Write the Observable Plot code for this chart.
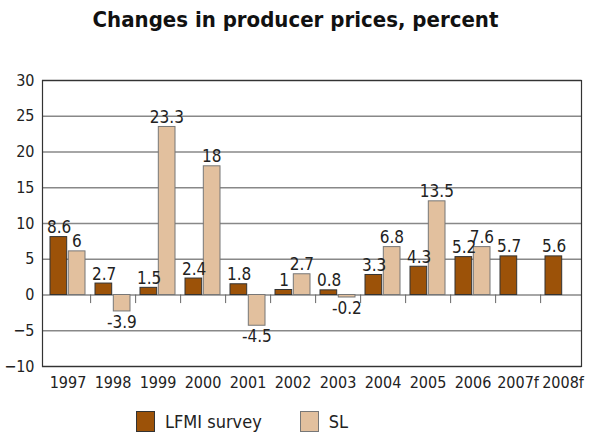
<!DOCTYPE html>
<html><head><meta charset="utf-8">
<script src="https://cdn.jsdelivr.net/npm/d3@7"></script>
<script src="https://cdn.jsdelivr.net/npm/@observablehq/plot@0.6"></script>
<style>
body{margin:0;background:#fff;font-family:"Liberation Sans Narrow","DejaVu Sans Condensed",sans-serif;position:relative;width:591px;height:438px;overflow:hidden;}
#title{position:absolute;left:0;top:0;width:591px;text-align:center;font-weight:bold;font-size:22px;line-height:22px;padding-top:9px;color:#111;}
#chart{position:absolute;left:0;top:50px;}
#legend{position:absolute;top:411px;left:136px;display:flex;align-items:center;font-size:18px;color:#222;}
.sw{width:19px;height:21px;box-sizing:border-box;border:1px solid #333;margin-right:10px;}
.item{display:flex;align-items:center;margin-right:38px;}
</style></head><body>
<div id="title">Changes in producer prices, percent</div>
<div id="chart"></div>
<div id="legend"></div>
<script>
const years = ["1997","1998","1999","2000","2001","2002","2003","2004","2005","2006","2007f","2008f"];
const lfmiBars = [8.1, 1.6, 1.0, 2.3, 1.5, 0.7, 0.65, 2.8, 3.95, 5.3, 5.4, 5.4];
const slBars = [6.1, -2.3, 23.5, 18.0, -4.3, 2.9, -0.35, 6.7, 13.1, 6.7, null, null];
const lfmiLabels = ["8.6","2.7","1.5","2.4","1.8","1","0.8","3.3","4.3","5.2","5.7","5.6"];
const slLabels = ["6","-3.9","23.3","18","-4.5","2.7","-0.2","6.8","13.5","7.6","",""];
const yTicks = [-10,-5,0,5,10,15,20,25,30];
const series = ["LFMI survey","SL"];
const colors = ["#9c5208","#e2c09e"];
const strokes = ["#333","#777"];

const W = 591, H = 350, mL = 42, mR = 10, mT = 30, mB = 34;
const pIn = 0.22, pOut = 0.14;
const xRange = [42, 588];
const step = (xRange[1] - xRange[0]) / (years.length - pIn + 2 * pOut);
const bw = step * (1 - pIn);
const half = bw / 2 + 0.65;

const rows = years.map((year, i) => ({year, lfmi: lfmiBars[i], sl: slBars[i], lfmiLabel: lfmiLabels[i], slLabel: slLabels[i]}));
const slRows = rows.filter(d => d.sl != null);
const font = '"Liberation Sans Narrow","DejaVu Sans Condensed",sans-serif';

const chart = Plot.plot({
  width: W, height: H,
  marginLeft: mL, marginRight: mR, marginTop: mT, marginBottom: mB,
  style: {fontFamily: font, fontSize: "16px", color: "#222", background: "#fff"},
  x: {type: "band", domain: years, paddingInner: pIn, paddingOuter: pOut, range: xRange, label: null},
  y: {domain: [-10, 30], label: null},
  marks: [
    Plot.ruleY(yTicks, {stroke: "#888", strokeWidth: 1.3}),
    Plot.barY(rows, {x: "year", y: "lfmi", fill: colors[0], stroke: strokes[0], strokeWidth: 1, insetRight: half}),
    Plot.barY(slRows, {x: "year", y: "sl", fill: colors[1], stroke: strokes[1], strokeWidth: 1, insetLeft: half}),
    Plot.ruleX(years.slice(0, years.length - 1), {x: d => d, dx: step / 2, y1: 0, y2: -1.2, stroke: "#666"}),
    Plot.frame({stroke: "#333", strokeWidth: 1.2}),
    Plot.text(rows, {x: "year", y: "lfmi", text: "lfmiLabel", dx: -bw / 4, dy: -4, lineAnchor: "bottom", fontSize: 17, fill: "#222"}),
    Plot.text(slRows.filter(d => d.sl >= 0), {x: "year", y: "sl", text: "slLabel", dx: bw / 4, dy: -4, lineAnchor: "bottom", fontSize: 17, fill: "#222"}),
    Plot.text(slRows.filter(d => d.sl < 0), {x: "year", y: "sl", text: "slLabel", dx: bw / 4, dy: 4, lineAnchor: "top", fontSize: 17, fill: "#222"}),
    Plot.axisY(yTicks, {tickSize: 0, tickPadding: 8, fontSize: 16, label: null}),
    Plot.axisX({tickSize: 0, tickPadding: 10, fontSize: 16, label: null})
  ]
});
document.getElementById("chart").appendChild(chart);

const legend = document.getElementById("legend");
series.forEach((s, i) => {
  const item = document.createElement("div");
  item.className = "item";
  const sw = document.createElement("div");
  sw.className = "sw";
  sw.style.background = colors[i];
  sw.style.borderColor = strokes[i];
  const t = document.createElement("span");
  t.textContent = s;
  item.appendChild(sw);
  item.appendChild(t);
  legend.appendChild(item);
});
</script>
</body></html>
